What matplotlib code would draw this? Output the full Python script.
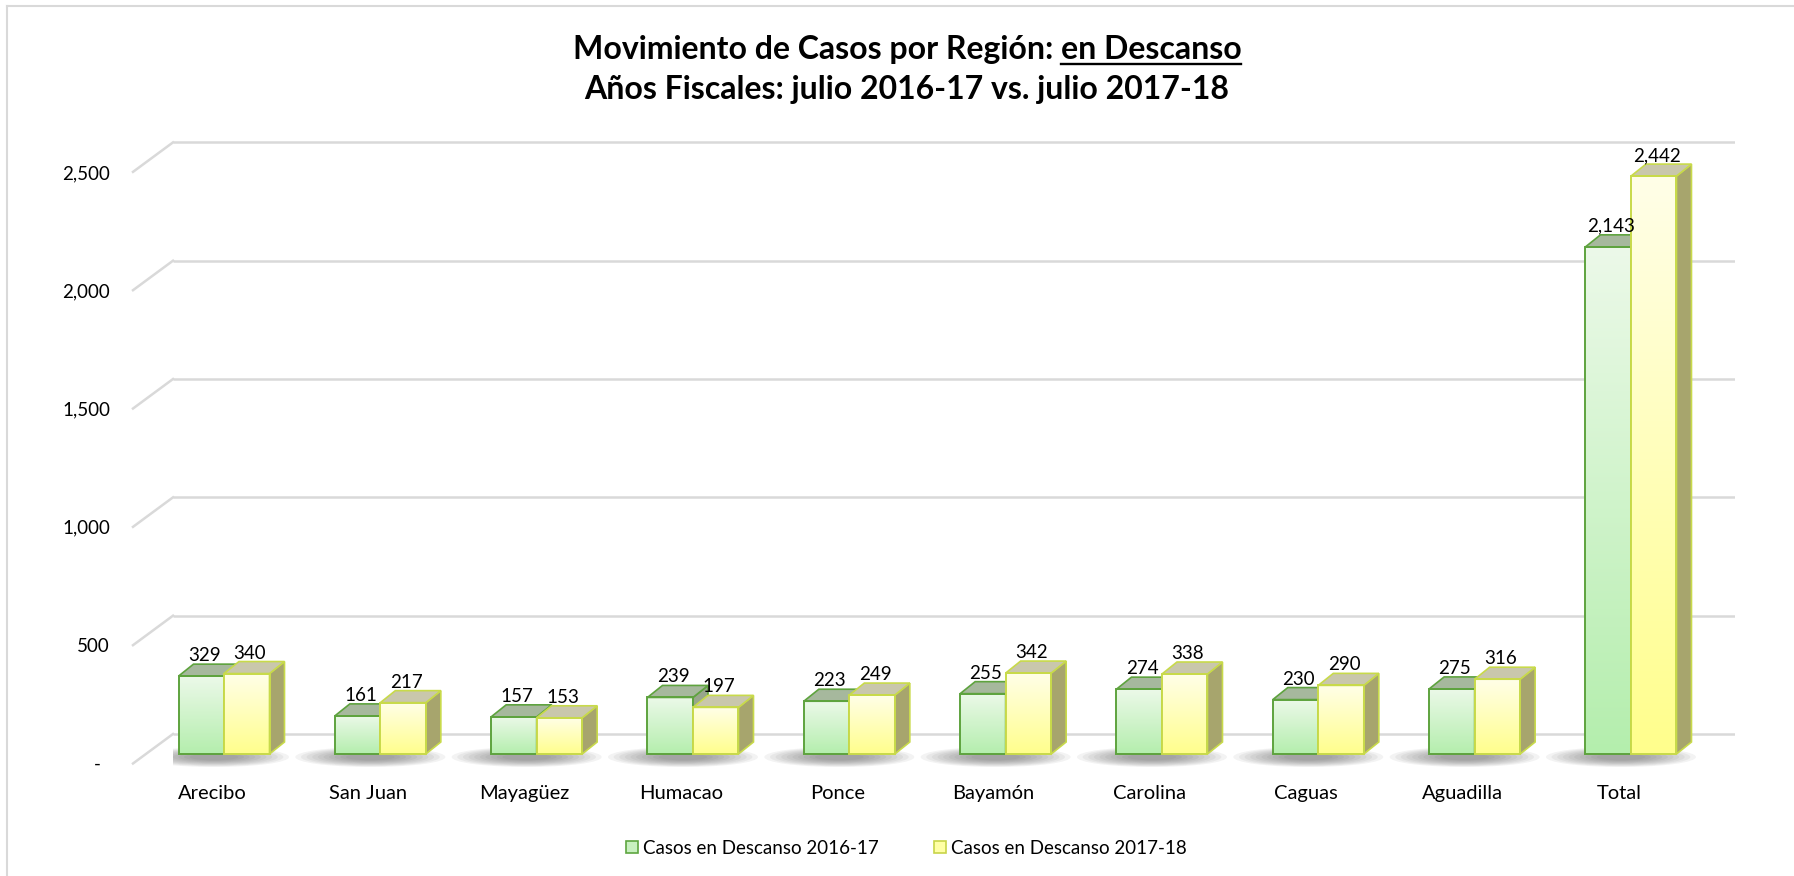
import numpy as np
import matplotlib
matplotlib.use("Agg")
import matplotlib.pyplot as plt
from matplotlib.patches import Polygon, Patch, Ellipse
from matplotlib.lines import Line2D
from matplotlib.colors import LinearSegmentedColormap

# data
regions = ["Arecibo", "San Juan", "Mayagüez", "Humacao", "Ponce",
           "Bayamón", "Carolina", "Caguas", "Aguadilla", "Total"]
casos_2016_17 = [329, 161, 157, 239, 223, 255, 274, 230, 275, 2143]
casos_2017_18 = [340, 217, 153, 197, 249, 342, 338, 290, 316, 2442]
series_names = ["Casos en Descanso 2016-17", "Casos en Descanso 2017-18"]
y_ticks = [0, 500, 1000, 1500, 2000, 2500]
y_tick_labels = ["-  ", "500", "1,000", "1,500", "2,000", "2,500"]

W, H, DPI = 1794, 876, 100
plt.rcParams['font.family'] = ['Lato', 'DejaVu Sans']

# pixel layout of the plot area (Excel 3D look)
X0_PX = 224.0        # front centre of first cluster
STEP_PX = 156.33     # distance between clusters
Y0_PX = 122.0        # value 0, from the bottom of the figure
PX_PER_UNIT = 0.23665


def px_x(n):
    return n / STEP_PX


def px_y(n):
    return n / PX_PER_UNIT


fig = plt.figure(figsize=(W / DPI, H / DPI), dpi=DPI)

left_px, right_px = 173, 1735
xlim = ((left_px - X0_PX) / STEP_PX, (right_px - X0_PX) / STEP_PX)
ylim = (-85, 2900)
bottom_px = Y0_PX + ylim[0] * PX_PER_UNIT
top_px = Y0_PX + ylim[1] * PX_PER_UNIT
ax = fig.add_axes([left_px / W, bottom_px / H, (right_px - left_px) / W, (top_px - bottom_px) / H])
for s in ax.spines.values():
    s.set_visible(False)

grid_col = '#d9d9d9'
for v in y_ticks:
    yb = v + px_y(20)
    yf = v - px_y(9.5)
    ax.plot([xlim[0], xlim[1]], [yb, yb], color=grid_col, lw=1.8, zorder=0, solid_capstyle='butt')
    ax.plot([(133 - X0_PX) / STEP_PX, xlim[0]], [yf, yb], color=grid_col, lw=1.8,
            zorder=0, clip_on=False)

styles = [
    dict(top='#ecf9e9', bottom='#b4eead', edge='#5ea33e', cap='#a6b89d', side='#98a68c'),
    dict(top='#fffee8', bottom='#ffff8c', edge='#c8da4a', cap='#c9c7ac', side='#a7a56d'),
]

x = np.arange(len(regions))
bw = 45.5 / STEP_PX
ddx, ddy = px_x(15), px_y(12)
grad = np.linspace(0, 1, 256).reshape(-1, 1)

z = 2
for i in range(len(regions)):
    # soft floor shadow
    for k in range(10):
        f = 1 - k * 0.075
        ax.add_patch(Ellipse((x[i] - px_x(10), -px_y(3)), width=px_x(150) * f,
                             height=px_y(20) * f, facecolor='#555555', alpha=0.07,
                             lw=0, zorder=1))
    for j, vals in enumerate([casos_2016_17, casos_2017_18]):
        st = styles[j]
        v = vals[i]
        x0 = x[i] - bw + j * bw
        x1 = x0 + bw
        cmap = LinearSegmentedColormap.from_list('g', [st['bottom'], st['top']])
        ax.imshow(grad, extent=[x0, x1, 0, v], origin='lower', cmap=cmap,
                  aspect='auto', zorder=z)
        ax.bar(x0, v, width=bw, align='edge', fill=False, edgecolor=st['edge'],
               lw=1.4, zorder=z + 0.1)
        ax.add_patch(Polygon([(x1, 0), (x1 + ddx, ddy), (x1 + ddx, v + ddy), (x1, v)],
                             facecolor=st['side'], edgecolor=st['edge'], lw=1.2, zorder=z + 0.05))
        ax.add_patch(Polygon([(x0, v), (x1, v), (x1 + ddx, v + ddy), (x0 + ddx, v + ddy)],
                             facecolor=st['cap'], edgecolor=st['edge'], lw=1.2, zorder=z + 0.05))
        ax.text(x0 + bw / 2 + px_x(3), v + ddy, f"{v:,}", ha='center', va='bottom',
                fontsize=13.5, zorder=50)
        z += 1

ax.set_yticks([v - px_y(9.5) for v in y_ticks], y_tick_labels)
ax.tick_params(axis='y', length=0, pad=(left_px - 110) * 0.72, labelsize=13.5)
ax.set_xticks(x - px_x(12), regions)
ax.tick_params(axis='x', length=0, pad=7.5, labelsize=14.5)
ax.set_xlim(xlim)
ax.set_ylim(ylim)

# title, with the underlined part
t1a = "Movimiento de Casos por Región: "
t1b = "en Descanso"
t1 = fig.text(907 / W, 1 - 50 / H, t1a + t1b, ha='center', va='center',
              fontsize=23, fontweight='bold')
fig.text(907 / W, 1 - 89 / H, "Años Fiscales: julio 2016-17 vs. julio 2017-18",
         ha='center', va='center', fontsize=23, fontweight='bold')
fig.canvas.draw()
r = fig.canvas.get_renderer()
bb = t1.get_window_extent(r)
tmp = fig.text(0, 0, t1b, fontsize=23, fontweight='bold')
wb = tmp.get_window_extent(r).width
tmp.remove()
y_ul = (H - 64) / H
fig.add_artist(Line2D([(bb.x1 - wb) / W, bb.x1 / W], [y_ul, y_ul], color='black', lw=1.7))

handles = [Patch(facecolor='#c8f0c0', edgecolor='#5ea640', lw=1.2),
           Patch(facecolor='#ffffa6', edgecolor='#c8d449', lw=1.2)]
fig.legend(handles, series_names, loc='center', bbox_to_anchor=(906 / W, 1 - 848 / H),
           ncol=2, frameon=False, fontsize=13.5, handlelength=0.65, handleheight=0.65,
           handletextpad=0.25, columnspacing=2.95)

# chart border (left and top only are visible)
fig.add_artist(Line2D([7 / W, 7 / W], [0, 1 - 6 / H], color=grid_col, lw=1.5))
fig.add_artist(Line2D([7 / W, 1], [1 - 6 / H, 1 - 6 / H], color=grid_col, lw=1.5))

fig.savefig('out.png', dpi=DPI)
